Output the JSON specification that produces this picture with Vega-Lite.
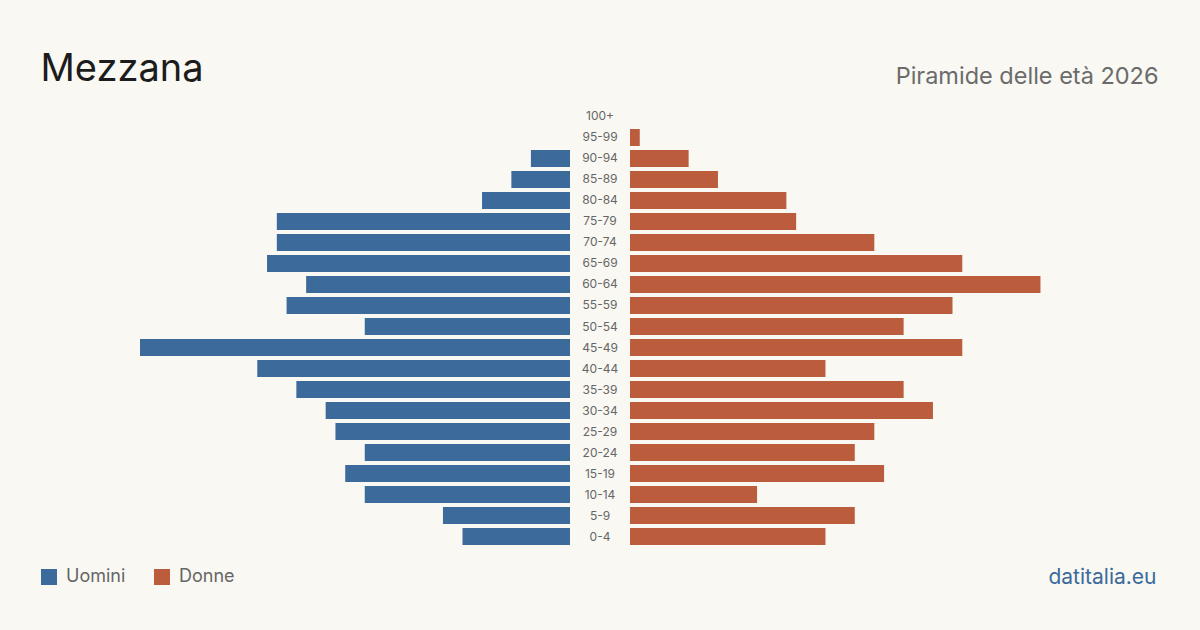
{
  "$schema": "https://vega.github.io/schema/vega-lite/v6.json",
  "width": 1200,
  "height": 630,
  "autosize": {"type": "fit", "contains": "padding"},
  "padding": 0,
  "background": "#f9f8f3",
  "config": {
    "view": {"stroke": null},
    "font": "Inter",
    "legend": {"padding": 0}
  },
  "data": {
    "values": [
      {"age": "100+", "m": 0, "f": 0},
      {"age": "95-99", "m": 0, "f": 1},
      {"age": "90-94", "m": 4, "f": 6},
      {"age": "85-89", "m": 6, "f": 9},
      {"age": "80-84", "m": 9, "f": 16},
      {"age": "75-79", "m": 30, "f": 17},
      {"age": "70-74", "m": 30, "f": 25},
      {"age": "65-69", "m": 31, "f": 34},
      {"age": "60-64", "m": 27, "f": 42},
      {"age": "55-59", "m": 29, "f": 33},
      {"age": "50-54", "m": 21, "f": 28},
      {"age": "45-49", "m": 44, "f": 34},
      {"age": "40-44", "m": 32, "f": 20},
      {"age": "35-39", "m": 28, "f": 28},
      {"age": "30-34", "m": 25, "f": 31},
      {"age": "25-29", "m": 24, "f": 25},
      {"age": "20-24", "m": 21, "f": 23},
      {"age": "15-19", "m": 23, "f": 26},
      {"age": "10-14", "m": 21, "f": 13},
      {"age": "5-9", "m": 13, "f": 23},
      {"age": "0-4", "m": 11, "f": 20}
    ]
  },
  "encoding": {
    "y": {
      "field": "age", "type": "nominal",
      "sort": ["100+","95-99","90-94","85-89","80-84","75-79","70-74","65-69","60-64","55-59","50-54","45-49","40-44","35-39","30-34","25-29","20-24","15-19","10-14","5-9","0-4"],
      "scale": {"range": [108, 545], "paddingInner": 0.1905, "paddingOuter": 0},
      "axis": null
    }
  },
  "layer": [
    {
      "mark": {"type": "bar", "xOffset": -30, "x2Offset": -30},
      "encoding": {
        "x": {
          "field": "m", "type": "quantitative",
          "scale": {"domain": [-61.395, 61.395], "reverse": true, "nice": false, "zero": false},
          "axis": {
            "orient": "top", "labels": false, "ticks": false, "domain": false, "grid": false,
            "title": "Mezzana", "titleX": 40, "titleY": 80, "titleAlign": "left", "titleBaseline": "alphabetic",
            "titleFontSize": 38, "titleFontWeight": "normal", "titleColor": "#1c1c1c", "titleFont": "Inter"
          }
        },
        "x2": {"datum": 0},
        "color": {
          "datum": "Uomini",
          "scale": {"domain": ["Uomini", "Donne"], "range": ["#3b6a9b", "#bb5d3c"]},
          "legend": {
            "orient": "none", "legendX": 40, "legendY": 568, "direction": "horizontal", "title": null,
            "symbolType": "square", "symbolSize": 256, "symbolStrokeWidth": 0, "symbolOpacity": 1,
            "labelFontSize": 18, "labelColor": "#666666", "labelFont": "Inter", "labelOffset": 8,
            "columnPadding": 27
          }
        }
      }
    },
    {
      "mark": {"type": "bar", "xOffset": 30, "x2Offset": 30},
      "encoding": {
        "x": {
          "field": "f", "type": "quantitative",
          "scale": {"domain": [-61.395, 61.395], "nice": false, "zero": false},
          "axis": {
            "orient": "top", "labels": false, "ticks": false, "domain": false, "grid": false,
            "title": "Piramide delle età 2026", "titleX": 1158, "titleY": 83, "titleAlign": "right", "titleBaseline": "alphabetic",
            "titleFontSize": 23.5, "titleFontWeight": "normal", "titleColor": "#6b6b6b", "titleFont": "Inter"
          }
        },
        "x2": {"datum": 0},
        "color": {"datum": "Donne"}
      }
    },
    {
      "mark": {"type": "text", "fontSize": 12, "color": "#666666", "font": "Inter", "baseline": "middle", "align": "center"},
      "encoding": {
        "x": {
          "datum": 0,
          "scale": {"domain": [-61.395, 61.395], "nice": false, "zero": false},
          "axis": {
            "orient": "bottom", "labels": false, "ticks": false, "domain": false, "grid": false,
            "title": "datitalia.eu", "titleX": 1156, "titleY": -47, "titleAlign": "right", "titleBaseline": "alphabetic",
            "titleFontSize": 21, "titleFontWeight": "normal", "titleColor": "#3b6a9b", "titleFont": "Inter"
          }
        },
        "text": {"field": "age"}
      }
    }
  ],
  "resolve": {"scale": {"x": "independent"}, "axis": {"x": "independent"}}
}
